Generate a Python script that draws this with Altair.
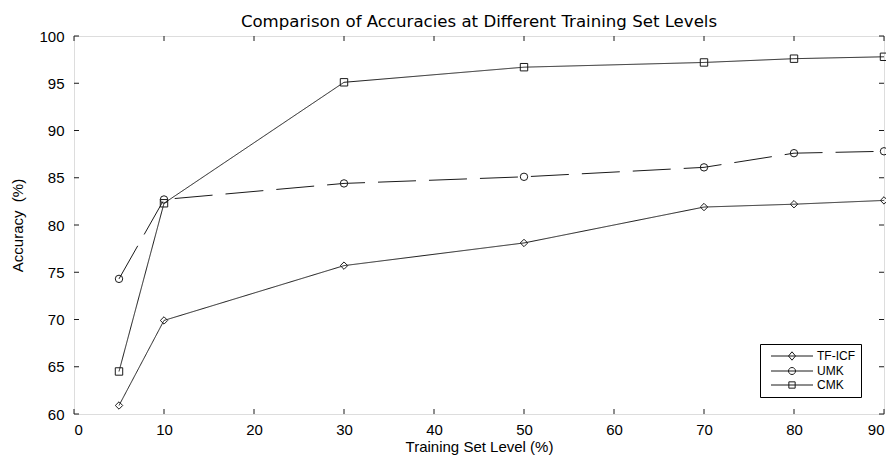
import altair as alt
import pandas as pd

levels = [5, 10, 30, 50, 70, 80, 90]
tf_icf = [60.9, 69.9, 75.7, 78.1, 81.9, 82.2, 82.6]
umk = [74.3, 82.7, 84.4, 85.1, 86.1, 87.6, 87.8]
cmk = [64.5, 82.3, 95.1, 96.7, 97.2, 97.6, 97.8]
series_names = ["TF-ICF", "UMK", "CMK"]

x_ticks = [0, 10, 20, 30, 40, 50, 60, 70, 80, 90]
y_ticks = [60, 65, 70, 75, 80, 85, 90, 95, 100]

rows = []
for name, vals in zip(series_names, [tf_icf, umk, cmk]):
    for lv, v in zip(levels, vals):
        rows.append({"level": lv, "acc": v, "series": name})
df = pd.DataFrame(rows)
xt = pd.DataFrame({"tx": x_ticks})
yt = pd.DataFrame({"ty": y_ticks})

W, H = 810, 378
FONT = "Liberation Sans"
TFONT = "DejaVu Sans"
INK = "#1a1a1a"

xscale = alt.Scale(domain=[0, 90], nice=False, zero=False)
yscale = alt.Scale(domain=[60, 100], nice=False, zero=False)

xaxis = alt.Axis(values=x_ticks, ticks=False, domain=False, grid=False, labelFontSize=15,
                 labelPadding=8, titleFontSize=15, titlePadding=2, labelFont=FONT,
                 titleFont=FONT, titleFontWeight="normal", labelColor="black", titleColor="black")
yaxis = alt.Axis(values=y_ticks, ticks=False, domain=False, grid=False, labelFontSize=15,
                 labelPadding=10, titleFontSize=15, titlePadding=13, labelFont=FONT,
                 titleFont=FONT, titleFontWeight="normal", labelColor="black", titleColor="black")

base = alt.Chart(df)

lines = base.mark_line(color=INK, strokeWidth=1).encode(
    x=alt.X("level:Q", scale=xscale, axis=xaxis, title="Training Set Level (%)"),
    y=alt.Y("acc:Q", scale=yscale, axis=yaxis, title="Accuracy\u00a0\u00a0(%)"),
    detail="series:N",
    strokeDash=alt.StrokeDash("series:N", scale=alt.Scale(domain=series_names,
                              range=[[1, 0], [38, 13], [1, 0]]), legend=None),
)

points = base.mark_point(filled=False, color=INK, strokeWidth=1, opacity=1).encode(
    x=alt.X("level:Q", scale=xscale),
    y=alt.Y("acc:Q", scale=yscale),
    shape=alt.Shape("series:N", scale=alt.Scale(domain=series_names,
                    range=["diamond", "circle", "square"]), legend=None),
    size=alt.value(55),
)

leg_paths = [
    "M-6,0 L6,0 M-1,0 L0,-1.2 L1,0 L0,1.2 Z",
    "M-6,0 L6,0 M-1,0 A1,1 0 1,0 1,0 A1,1 0 1,0 -1,0",
    "M-6,0 L6,0 M-0.9,-0.9 L0.9,-0.9 L0.9,0.9 L-0.9,0.9 Z",
]
legend_layer = base.transform_filter("false").mark_point(filled=False, color=INK, strokeWidth=1, opacity=1).encode(
    x=alt.X("level:Q", scale=xscale),
    y=alt.Y("acc:Q", scale=yscale),
    shape=alt.Shape("series:N", scale=alt.Scale(domain=series_names, range=leg_paths),
                    legend=alt.Legend(title=None, orient="none", legendX=686, legendY=308,
                                      strokeColor="black", fillColor="white", padding=6,
                                      symbolSize=49, symbolStrokeWidth=1, symbolStrokeColor=INK,
                                      symbolFillColor="transparent", labelFontSize=12,
                                      labelFont=FONT, labelColor="black", labelOffset=19,
                                      rowPadding=2, symbolOffset=20)),
)

tick_len = 5
bx = alt.Chart(xt).mark_rule(color=INK, strokeWidth=1).encode(
    x=alt.X("tx:Q", scale=xscale), y=alt.value(H), y2=alt.value(H - tick_len))
tx = alt.Chart(xt).mark_rule(color=INK, strokeWidth=1).encode(
    x=alt.X("tx:Q", scale=xscale), y=alt.value(0), y2=alt.value(tick_len))
ly = alt.Chart(yt).mark_rule(color=INK, strokeWidth=1).encode(
    y=alt.Y("ty:Q", scale=yscale), x=alt.value(0), x2=alt.value(tick_len))
ry = alt.Chart(yt).mark_rule(color=INK, strokeWidth=1).encode(
    y=alt.Y("ty:Q", scale=yscale), x=alt.value(W), x2=alt.value(W - tick_len))

chart = alt.layer(lines, points, legend_layer, bx, tx, ly, ry).resolve_scale(
    shape="independent"
).properties(
    width=W, height=H,
    title=alt.TitleParams("Comparison of Accuracies at Different Training Set Levels",
                          fontSize=16.6, font=TFONT, fontWeight="normal", color="black",
                          offset=-2, frame="group"),
    autosize=alt.AutoSizeParams(type="none"),
    padding={"left": 66, "top": 28, "right": 2, "bottom": 42},
).configure_view(stroke="black", strokeWidth=1).configure(background="white")

chart.save("out.html", embed_options={"renderer": "svg", "actions": False})
